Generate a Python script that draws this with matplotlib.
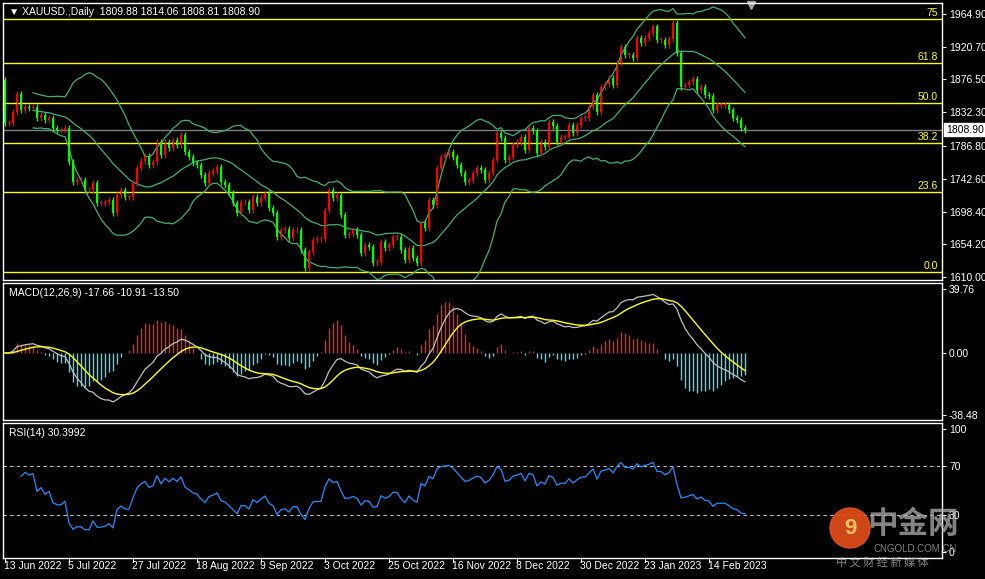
import numpy as np
import pandas as pd
import matplotlib
matplotlib.use("Agg")
import matplotlib.pyplot as plt
from matplotlib.patches import Ellipse

plt.rcParams['font.family'] = ['Liberation Sans', 'DejaVu Sans', 'Noto Sans CJK SC']

closes = [
1818,1818,1833,1857,1835,1840,1838,1840,1825,1829,
1822,1825,1811,1808,1808,1811,1765,1738,1741,1741,
1727,1727,1737,1710,1710,1711,1714,1696,1721,1727,
1718,1718,1737,1757,1767,1773,1761,1765,1792,1775,
1792,1784,1795,1788,1802,1779,1772,1764,1761,1748,
1737,1750,1753,1758,1738,1734,1723,1710,1696,1711,
1711,1700,1718,1710,1717,1723,1703,1696,1664,1673,
1675,1663,1673,1673,1646,1622,1644,1660,1661,1661,
1700,1727,1717,1721,1694,1667,1668,1673,1667,1642,
1653,1651,1629,1630,1657,1649,1653,1664,1664,1646,
1633,1649,1636,1629,1683,1676,1714,1707,1757,1772,
1775,1779,1772,1761,1750,1738,1741,1750,1757,1754,
1741,1750,1768,1804,1798,1768,1772,1788,1792,1799,
1781,1811,1807,1777,1792,1786,1819,1814,1792,1799,
1799,1815,1804,1815,1825,1825,1840,1856,1833,1867,
1871,1879,1869,1899,1921,1910,1910,1906,1933,1926,
1933,1939,1948,1930,1930,1923,1931,1953,1912,1867,
1869,1873,1877,1862,1867,1856,1854,1835,1842,1842,
1842,1835,1825,1822,1811,1808.9]
first_open = 1876
date_labels = ["13 Jun 2022","5 Jul 2022","27 Jul 2022","18 Aug 2022","9 Sep 2022",
               "3 Oct 2022","25 Oct 2022","16 Nov 2022","8 Dec 2022","30 Dec 2022",
               "23 Jan 2023","14 Feb 2023"]
price_ticks = [1964.90,1920.70,1876.50,1832.30,1786.80,1742.60,1698.40,1654.20,1610.00]
fib_low, fib_range = 1616.8, 455.2
fib_levels = [0.0, 23.6, 38.2, 50.0, 61.8, 75]
fib_names = ["0.0","23.6","38.2","50.0","61.8","75"]
last_price = 1808.90

c = pd.Series(closes, dtype=float)
n = len(c)
o = pd.Series([first_open] + closes[:-1], dtype=float)
wick = 4.0
hi = np.maximum(o, c) + wick
lo = np.minimum(o, c) - wick
x = np.arange(n)

mid = c.rolling(20, min_periods=8).mean()
sd = c.rolling(20, min_periods=8).std(ddof=0)
up, dn = mid + 2 * sd, mid - 2 * sd

macd = c.ewm(span=12, adjust=False).mean() - c.ewm(span=26, adjust=False).mean()
sig = macd.ewm(span=9, adjust=False).mean()
hist = 2 * (macd - sig)

d = c.diff()
g = d.clip(lower=0).ewm(alpha=1/14, adjust=False).mean()
l = (-d.clip(upper=0)).ewm(alpha=1/14, adjust=False).mean()
rsi = 100 - 100 / (1 + g / l)
rsi[:4] = np.nan

W, H = 985, 579
fig = plt.figure(figsize=(W/100, H/100), dpi=100, facecolor='black')
def ax_px(l_, t, r, b):
    return fig.add_axes([l_/W, 1 - b/H, (r-l_)/W, (b-t)/H], facecolor='black')

XL = (-0.5, (942-5)/4)
ax1 = ax_px(3, 3, 942, 280)
ax2 = ax_px(3, 283, 942, 420)
ax3 = ax_px(3, 423, 942, 558)
for a in (ax1, ax2, ax3):
    a.set_xlim(*XL)
    for s in a.spines.values():
        s.set_color('white'); s.set_linewidth(1)
    a.set_xticks([])
    a.yaxis.tick_right()
    a.tick_params(axis='y', colors='white', labelsize=7.5, length=3, pad=2)

# main
ax1.set_ylim(1606.0, 1979.7)
for lv, nm in zip(fib_levels, fib_names):
    yv = fib_low + fib_range * lv / 100
    ax1.axhline(yv, color='#ffff00', lw=1)
    ax1.text(XL[1]-1, yv+1.5, nm, color='#ffff00', fontsize=7.5, ha='right', va='bottom')
ax1.axhline(last_price, color='#808080', lw=1)
ax1.plot(x, up, color='#3cb371', lw=0.9)
ax1.plot(x, mid, color='#3cb371', lw=0.9)
ax1.plot(x, dn, color='#3cb371', lw=0.9)
cols = np.where(c >= o, '#ff0000', '#00ff00')
ax1.vlines(x, lo, hi, colors=cols, lw=1)
body = np.abs(c - o).clip(lower=0.8)
ax1.bar(x, body, bottom=np.minimum(o, c), width=0.65, color=cols, linewidth=0)
ax1.set_yticks(price_ticks)
ax1.set_yticklabels([f"{p:.2f}" for p in price_ticks])
ax1.text(XL[1]+1.0, last_price, f"{last_price:.2f}", fontsize=7.5, color='black', va='center',
         ha='left', bbox=dict(boxstyle='square,pad=0.15', fc='white', ec='white'), clip_on=False)
ax1.text(0.006, 0.985, "\u25BC XAUUSD.,Daily  1809.88 1814.06 1808.81 1808.90", transform=ax1.transAxes,
         color='white', fontsize=7.5, va='top')
ax1.plot([186.5], [1977], marker='v', color='#a0a0a0', ms=6, clip_on=False)

# macd
ax2.set_ylim(-41.6, 43.5)
hc = np.where(hist >= 0, '#ff2020', '#40e0f0')
ax2.vlines(x, 0, hist, colors=hc, lw=1)
ax2.plot(x, macd, color='#c0c0c0', lw=0.9)
ax2.plot(x, sig, color='#ffff00', lw=1)
ax2.set_yticks([39.76, 0.0, -38.48]); ax2.set_yticklabels(["39.76", "0.00", "-38.48"])
ax2.text(0.006, 0.96, "MACD(12,26,9) -17.66 -10.91 -13.50", transform=ax2.transAxes,
         color='white', fontsize=7.5, va='top')

# rsi
ax3.set_ylim(-5, 105)
ax3.axhline(70, color='#c0c0c0', lw=0.8, ls=(0, (3, 3)))
ax3.axhline(30, color='#c0c0c0', lw=0.8, ls=(0, (3, 3)))
ax3.plot(x, rsi, color='#1e90ff', lw=0.9)
ax3.set_yticks([100, 70, 30, 0]); ax3.set_yticklabels(["100", "70", "30", "0"])
ax3.text(0.006, 0.96, "RSI(14) 30.3992", transform=ax3.transAxes, color='white', fontsize=7.5, va='top')
for i, lb in enumerate(date_labels):
    xi = i * 16
    ax3.plot([xi, xi], [-5, -8], color='white', lw=0.8, clip_on=False)
    ax3.text(xi - 0.3, -7.5, lb, color='white', fontsize=7.5, ha='left', va='top')

# watermark
fig.add_artist(Ellipse((850/W, 1-528/H), 40/W, 40/H, transform=fig.transFigure,
                       color='#e8501a', alpha=0.9))
fig.text(850/W, 1-528/H, "9", color='#f5c060', fontsize=16, weight='bold', ha='center', va='center')
fig.text(913/W, 1-524/H, "中金网", color='#b0b0b0', fontsize=22, ha='center', va='center',
         family=['Noto Sans CJK SC'], alpha=0.75, weight='bold')
fig.text(915/W, 1-549/H, "CNGOLD.COM.CN", color='#b0b0b0', fontsize=7, ha='center', va='center', alpha=0.75)
fig.text(882/W, 1-562/H, "中 文 财 经 新 媒 体", color='#b0b0b0', fontsize=8, ha='center', va='center',
         family=['Noto Sans CJK SC'], alpha=0.75)

fig.savefig("out.png", dpi=100, facecolor='black')
